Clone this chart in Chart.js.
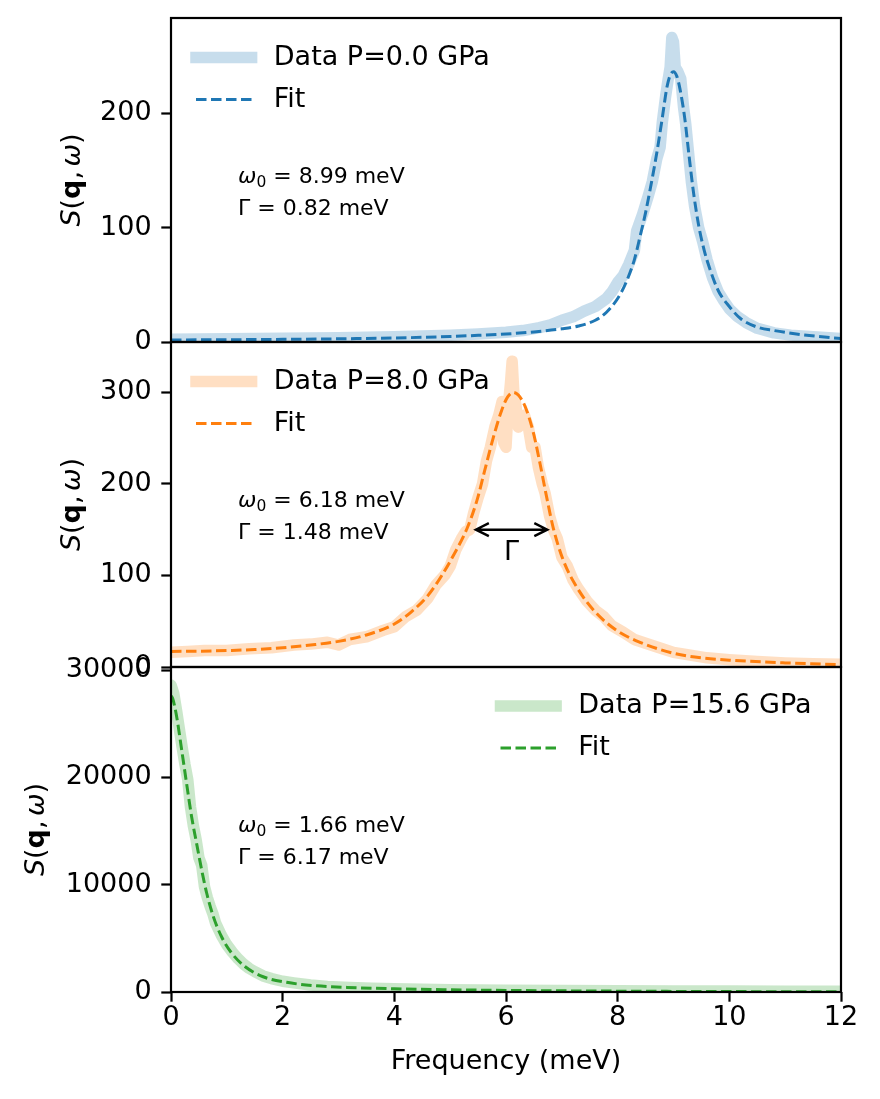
<!DOCTYPE html>
<html>
<head>
<meta charset="utf-8">
<script src="https://cdn.jsdelivr.net/npm/chart.js@4"></script>
<style>
  body { margin: 0; background: #fff; }
  #wrap { position: relative; width: 880px; height: 1099px; overflow: hidden; }
  canvas { position: absolute; left: 0; }
</style>
</head>
<body>
<div id="wrap">
  <canvas id="p1" width="880" height="420" style="top:-20px"></canvas>
  <canvas id="p2" width="880" height="420" style="top:300px"></canvas>
  <canvas id="p3" width="880" height="479" style="top:620px"></canvas>
</div>
<script>
// P = 0.0 GPa
const freqData0 = [0, 0.5, 1, 1.5, 2, 2.5, 3, 3.5, 4, 4.5, 5, 5.5, 6, 6.3, 6.6, 6.8, 7.0, 7.2, 7.4, 7.6,
  7.8, 7.9, 8.0, 8.1, 8.2, 8.3, 8.34, 8.45, 8.55, 8.62, 8.7, 8.76, 8.8, 8.86, 8.9, 8.94, 8.97, 9.0, 9.03, 9.08,
  9.13, 9.18, 9.22, 9.27, 9.32, 9.38, 9.45, 9.52, 9.6, 9.7, 9.8, 9.9, 10.0, 10.15, 10.3, 10.5, 10.8, 11.1, 11.5, 12];
const sData0 = [2.5, 2.6, 2.8, 3, 3.2, 3.4, 3.7, 4.2, 4.6, 5.3, 6, 7, 8.5, 10, 12.5, 15, 19, 22, 27, 31,
  38, 44, 52, 58, 68, 80, 97, 112, 128, 140, 160, 170, 192, 215, 228, 240, 266, 262, 240, 236,
  230, 205, 190, 165, 140, 118, 100, 88, 72, 56, 44, 36, 29, 22, 17, 12, 8, 6, 4.5, 3];
const freqFit0 = [0, 1, 2, 3, 4, 5, 5.5, 6, 6.5, 7.0, 7.3, 7.6, 7.8, 8.0, 8.15, 8.3, 8.4, 8.5, 8.6, 8.7,
  8.8, 8.88, 8.94, 9.0, 9.06, 9.12, 9.2, 9.28, 9.36, 9.45, 9.55, 9.65, 9.8, 10.0, 10.2, 10.5, 10.8, 11.2, 11.6, 12];
const sFit0 = [1.8, 2, 2.3, 2.8, 3.5, 4.8, 5.8, 7, 8.8, 11.5, 14, 19, 26, 38, 52, 72, 92, 113, 138, 165,
  196, 222, 233, 236, 232, 220, 196, 162, 130, 102, 80, 64, 45, 31, 20.5, 13, 10, 7, 4.8, 3];

// P = 8.0 GPa
const freqData8 = [0, 0.3, 0.6, 1.0, 1.4, 1.8, 2.2, 2.5, 2.8, 3.0, 3.2, 3.5, 3.8, 4.0, 4.2, 4.4, 4.6, 4.75, 4.9, 5.0,
  5.1, 5.2, 5.28, 5.35, 5.42, 5.5, 5.58, 5.65, 5.72, 5.8, 5.87, 5.93, 5.96, 6.0, 6.04, 6.08, 6.11, 6.14, 6.18, 6.22,
  6.27, 6.33, 6.4, 6.46, 6.52, 6.58, 6.65, 6.7, 6.78, 6.85, 6.92, 7.0, 7.1, 7.2, 7.3, 7.45, 7.6, 7.75, 7.9, 8.1,
  8.3, 8.5, 8.8, 9.0, 9.3, 9.6, 10, 10.5, 11, 11.5, 12];
const sData8 = [16, 17, 18, 18, 20, 21, 24, 25, 27, 24, 30, 33, 40, 44, 55, 62, 75, 90, 100, 110,
  128, 140, 148, 150, 168, 185, 200, 225, 240, 262, 275, 290, 245, 240, 285, 310, 334, 300, 285, 262,
  270, 275, 262, 240, 240, 218, 200, 190, 165, 150, 140, 120, 110, 95, 85, 72, 62, 55, 45, 38,
  30, 26, 20, 16, 13, 10, 8, 6, 4.5, 3.5, 3];
const freqFit8 = [0, 0.5, 1, 1.5, 2, 2.5, 3, 3.5, 4.0, 4.3, 4.6, 4.85, 5.05, 5.3, 5.48, 5.62, 5.77, 5.92, 6.03, 6.13,
  6.22, 6.34, 6.49, 6.61, 6.73, 6.85, 7.03, 7.27, 7.57, 7.98, 8.4, 9, 9.5, 10, 11, 12];
const sFit8 = [17, 17.3, 18, 19, 21, 24, 28, 35, 47, 60, 78, 100, 121, 151, 182, 215, 250, 280, 295, 300,
  297, 285, 256, 222, 185, 151, 116, 87, 62, 40, 27, 15, 10, 7.5, 4.5, 2.5];

// P = 15.6 GPa
const freqData15 = [0, 0.05, 0.1, 0.15, 0.2, 0.25, 0.3, 0.35, 0.4, 0.45, 0.5, 0.55, 0.6, 0.65, 0.7, 0.75, 0.8, 0.9, 1.0, 1.1,
  1.2, 1.3, 1.4, 1.5, 1.65, 1.8, 2.0, 2.2, 2.5, 2.8, 3.2, 3.6, 4, 5, 6, 7, 8, 9, 10, 11, 12];
const sData15 = [28600, 27800, 26200, 24500, 22800, 21200, 19800, 17200, 15500, 14200, 12500, 11800, 9800, 8800, 8000, 7300, 6400, 5300, 4400, 3700,
  3100, 2600, 2200, 1900, 1500, 1250, 1000, 850, 650, 520, 420, 350, 300, 220, 170, 140, 110, 100, 90, 80, 80];
const freqFit15 = [0, 0.03, 0.1, 0.19, 0.28, 0.37, 0.46, 0.55, 0.64, 0.76, 0.91, 1.09, 1.33, 1.65, 2.07, 2.55, 3.15, 4, 5, 6, 8, 10, 12];
const sFit15 = [27600, 27340, 25700, 22600, 19400, 16300, 13800, 11350, 9200, 7000, 5100, 3600, 2350, 1420, 900, 600, 430, 300, 210, 150, 80, 40, 20];

const xTicks = [0, 2, 4, 6, 8, 10, 12];

const F = 'DejaVu Sans';
const HANDLE = 55.6;

function toXY(xs, ys) {
  return xs.map((x, i) => ({x: x, y: ys[i]}));
}

function drawRuns(ctx, runs, x, y) {
  runs.forEach(r => {
    ctx.font = r.font;
    ctx.fillText(r.t, x, y + (r.dy || 0));
    x += ctx.measureText(r.t).width + (r.gap || 0);
  });
}
function runsWidth(ctx, runs) {
  let w = 0;
  runs.forEach(r => { ctx.font = r.font; w += ctx.measureText(r.t).width + (r.gap || 0); });
  return w;
}

const panelDecor = {
  id: 'panelDecor',
  afterDraw(chart, args, o) {
    const {ctx, chartArea: a} = chart;
    const xs = chart.scales.x, ys = chart.scales.y;
    ctx.save();

    // frame
    ctx.strokeStyle = '#000';
    ctx.lineWidth = 2.2;
    ctx.strokeRect(a.left, a.top, a.right - a.left, a.bottom - a.top);

    // y label  S(q, w)
    const lab = [
      {t: 'S', font: `italic 27px ${F}`},
      {t: '(', font: `27px ${F}`},
      {t: 'q', font: `bold 27px ${F}`},
      {t: ',', font: `27px ${F}`, gap: 4.5},
      {t: '\u03c9', font: `italic 27px ${F}`},
      {t: ')', font: `27px ${F}`}
    ];
    ctx.fillStyle = '#000';
    ctx.textBaseline = 'alphabetic';
    ctx.textAlign = 'left';
    ctx.save();
    ctx.translate(o.ylabelX, (a.top + a.bottom) / 2);
    ctx.rotate(-Math.PI / 2);
    drawRuns(ctx, lab, -runsWidth(ctx, lab) / 2, 0);
    ctx.restore();

    // fit parameters
    const tx = a.left + 67;
    drawRuns(ctx, [
      {t: '\u03c9', font: `italic 22px ${F}`},
      {t: '0', font: `15.5px ${F}`, dy: 3.5},
      {t: ' = ' + o.w0 + ' meV', font: `22px ${F}`}
    ], tx, a.top + 165);
    ctx.font = `22px ${F}`;
    ctx.fillText('\u0393 = ' + o.gamma + ' meV', tx, a.top + 197);

    // FWHM arrow
    if (o.arrow) {
      const x0 = xs.getPixelForValue(o.arrow.x0);
      const x1 = xs.getPixelForValue(o.arrow.x1);
      const y = ys.getPixelForValue(o.arrow.y);
      ctx.lineWidth = 2.4;
      ctx.lineJoin = 'miter';
      ctx.beginPath();
      ctx.moveTo(x0, y); ctx.lineTo(x1, y);
      ctx.moveTo(x0 + 13, y - 6.5); ctx.lineTo(x0, y); ctx.lineTo(x0 + 13, y + 6.5);
      ctx.moveTo(x1 - 13, y - 6.5); ctx.lineTo(x1, y); ctx.lineTo(x1 - 13, y + 6.5);
      ctx.stroke();
      ctx.font = `27px ${F}`;
      ctx.textAlign = 'center';
      ctx.textBaseline = 'middle';
      ctx.fillText('\u0393', xs.getPixelForValue(o.arrow.labelX), ys.getPixelForValue(o.arrow.labelY));
      ctx.textAlign = 'left';
    }

    // legend
    const hx = a.left + o.legendX;
    const r1 = a.top + o.legendRows[0], r2 = a.top + o.legendRows[1];
    ctx.lineCap = 'square';
    ctx.strokeStyle = o.light;
    ctx.lineWidth = 11.5;
    ctx.beginPath(); ctx.moveTo(hx, r1); ctx.lineTo(hx + HANDLE, r1); ctx.stroke();
    ctx.lineCap = 'butt';
    ctx.strokeStyle = o.color;
    ctx.lineWidth = 3;
    ctx.setLineDash([10.5, 4.5]);
    ctx.beginPath(); ctx.moveTo(hx, r2); ctx.lineTo(hx + HANDLE, r2); ctx.stroke();
    ctx.setLineDash([]);
    ctx.font = `27px ${F}`;
    ctx.textBaseline = 'middle';
    ctx.fillStyle = '#000';
    ctx.fillText(o.labels[0], hx + HANDLE + 22.2, r1);
    ctx.fillText(o.labels[1], hx + HANDLE + 22.2, r2);

    ctx.restore();
  }
};

function makePanel(id, p) {
  return new Chart(document.getElementById(id), {
    type: 'line',
    data: {
      datasets: [
        {data: toXY(p.fitX, p.fitY), borderColor: p.color, borderWidth: 3, borderDash: [10.5, 4.5],
          pointRadius: 0, cubicInterpolationMode: 'monotone', clip: 0},
        {data: toXY(p.dataX, p.dataY), borderColor: p.light, borderWidth: 11.5, pointRadius: 0,
          tension: 0, borderJoinStyle: 'round', borderCapStyle: 'round', clip: 0}
      ]
    },
    options: {
      responsive: false,
      animation: false,
      events: [],
      layout: {padding: {left: 0, right: 39, top: p.padTop, bottom: p.padBottom}},
      plugins: {
        legend: {display: false},
        tooltip: {enabled: false},
        panelDecor: p.decor
      },
      scales: {
        x: {
          type: 'linear', min: 0, max: 12, display: p.showX,
          afterBuildTicks: s => { s.ticks = xTicks.map(v => ({value: v})); },
          ticks: {color: '#000', font: {family: F, size: 27}, padding: 0, maxRotation: 0,
            callback: v => String(v)},
          grid: {drawOnChartArea: false, tickLength: 9.7, tickWidth: 2.2, tickColor: '#000'},
          border: {display: false},
          title: {display: true, text: 'Frequency (meV)', color: '#000', font: {family: F, size: 27},
            padding: {top: 0, bottom: 21}},
          afterFit: s => { if (p.showX) s.height = 107; }
        },
        y: {
          min: 0, max: p.ymax,
          afterBuildTicks: s => { s.ticks = p.yTicks.map(v => ({value: v})); },
          ticks: {color: '#000', font: {family: F, size: 27}, padding: 9.7, callback: v => String(v)},
          grid: {drawOnChartArea: false, tickLength: 9.7, tickWidth: 2.2, tickColor: '#000'},
          border: {display: false},
          afterFit: s => { s.width = 171; }
        }
      }
    },
    plugins: [panelDecor]
  });
}

makePanel('p1', {
  dataX: freqData0, dataY: sData0, fitX: freqFit0, fitY: sFit0,
  color: '#1f77b4', light: 'rgba(31,119,180,0.25)',
  ymax: 283, yTicks: [0, 100, 200], showX: false, padTop: 38, padBottom: 58,
  decor: {ylabelX: 80, w0: '8.99', gamma: '0.82', legendX: 25, legendRows: [39.5, 81.5],
    labels: ['Data P=0.0 GPa', 'Fit'], color: '#1f77b4', light: 'rgba(31,119,180,0.25)'}
});

makePanel('p2', {
  dataX: freqData8, dataY: sData8, fitX: freqFit8, fitY: sFit8,
  color: '#ff7f0e', light: 'rgba(255,127,14,0.25)',
  ymax: 355, yTicks: [0, 100, 200, 300], showX: false, padTop: 42, padBottom: 53,
  decor: {ylabelX: 80, w0: '6.18', gamma: '1.48', legendX: 25, legendRows: [39.5, 81.5],
    labels: ['Data P=8.0 GPa', 'Fit'], color: '#ff7f0e', light: 'rgba(255,127,14,0.25)',
    arrow: {x0: 5.46, x1: 6.74, y: 150, labelX: 6.1, labelY: 124}}
});

makePanel('p3', {
  dataX: freqData15, dataY: sData15, fitX: freqFit15, fitY: sFit15,
  color: '#2ca02c', light: 'rgba(44,160,44,0.25)',
  ymax: 30280, yTicks: [0, 10000, 20000, 30000], showX: true, padTop: 47, padBottom: 0,
  decor: {ylabelX: 44, w0: '1.66', gamma: '6.17', legendX: 329.5, legendRows: [39, 81],
    labels: ['Data P=15.6 GPa', 'Fit'], color: '#2ca02c', light: 'rgba(44,160,44,0.25)'}
});
</script>
</body>
</html>
